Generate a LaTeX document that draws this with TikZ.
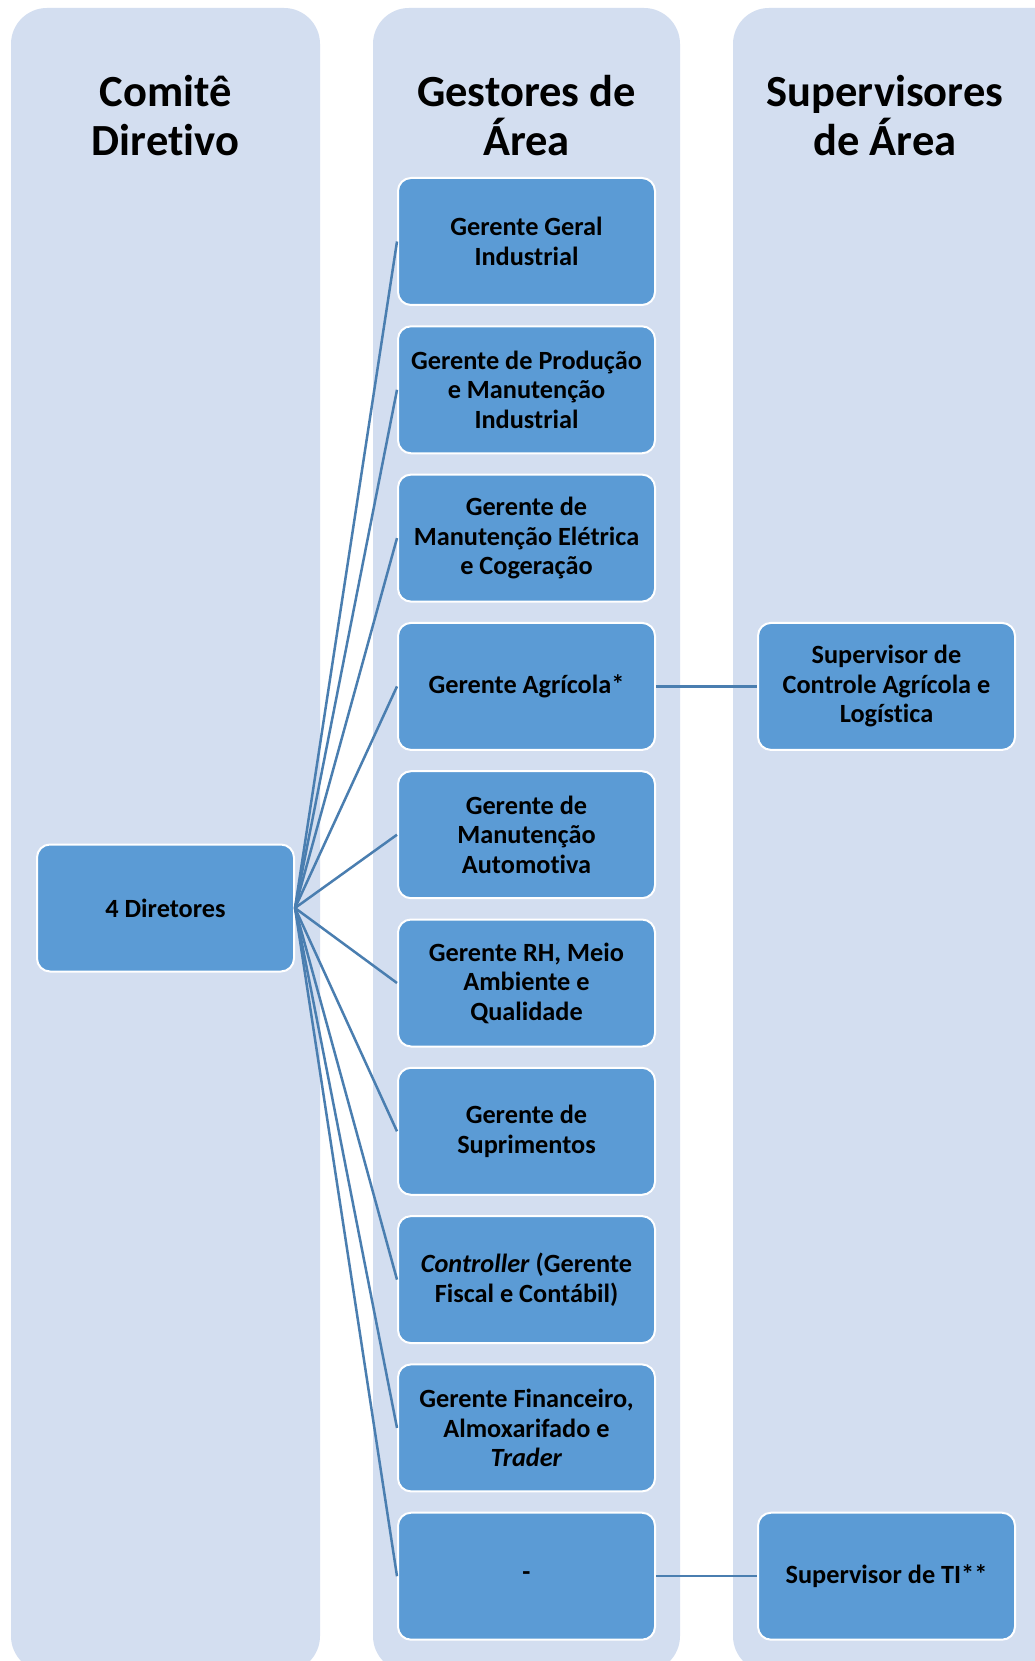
\documentclass[tikz,border=0pt]{standalone}
\usepackage{fontspec}
\setmainfont{Carlito}[RawFeature={-liga;-clig;-dlig}]
\newcommand\tnolig{t\kern0pt }
\definecolor{colbg}{HTML}{D3DEF0}
\definecolor{boxfill}{HTML}{5B9BD5}
\definecolor{conn}{HTML}{4A7EB0}
\begin{document}
\begin{tikzpicture}[x=1pt,y=-1pt,
  colbox/.style={fill=colbg, rounded corners=36pt},
  title/.style={align=center, font=\fontsize{44.5}{49}\selectfont\bfseries, inner sep=0pt},
  orgbox/.style={draw=white, line width=2pt, fill=boxfill, rounded corners=13pt,
    minimum width=257pt, minimum height=127pt, align=center, inner sep=2pt,
    font=\fontsize{26.3}{29.5}\selectfont\bfseries},
  link/.style={draw=conn, line width=2.5pt}]
\useasboundingbox (0,0) rectangle (1034,1661);
\fill[white] (0,0) rectangle (1034,1661);
% columns
\fill[colbox] (11,8) rectangle (320,1672);
\fill[colbox] (373,8) rectangle (680,1672);
\fill[colbox] (733,8) rectangle (1080,1672);
% titles
\node[title] (t1) at (165.5,116) {Comitê\\Dire\tnolig ivo};
\node[title] (t2) at (526.5,116) {Gestores de\\Área};
\node[title] (t3) at (885,116) {Supervisores\\de Área};
% boxes
\node[orgbox] (dir) at (165.5,908) {4 Diretores};
\node[orgbox] (g1) at (526.5,241.5) {Gerente Geral\\Industrial};
\node[orgbox] (g2) at (526.5,389.8) {Gerente de Produção\\e Manutenção\\Industrial};
\node[orgbox] (g3) at (526.5,538.1) {Gerente de\\Manutenção Elétrica\\e Cogeração};
\node[orgbox] (g4) at (526.5,686.4) {Gerente Agrícola*};
\node[orgbox] (g5) at (526.5,834.7) {Gerente de\\Manutenção\\Automo\tnolig iva};
\node[orgbox] (g6) at (526.5,983.0) {Gerente RH, Meio\\Ambiente e\\Qualidade};
\node[orgbox] (g7) at (526.5,1131.3) {Gerente de\\Suprimentos};
\node[orgbox] (g8) at (526.5,1279.6) {\textit{Controller} (Gerente\\Fiscal e Contábil)};
\node[orgbox] (g9) at (526.5,1427.9) {Gerente Financeiro,\\Almoxarifado e\\\textit{Trader}};
\node[orgbox] (g10) at (526.5,1576.2) {-};
\node[orgbox] (s1) at (886.5,686.4) {Supervisor de\\Controle Agrícola e\\Logís\tnolig ica};
\node[orgbox] (s2) at (886.5,1576.2) {Supervisor de TI**};
% connectors
\foreach \i in {1,...,10} {
  \path[link] (dir.east) -- (g\i.west);
}
\path[link] (g4.east) -- (s1.west);
\path[link] (g10.east) -- (s2.west);
\end{tikzpicture}
\end{document}
